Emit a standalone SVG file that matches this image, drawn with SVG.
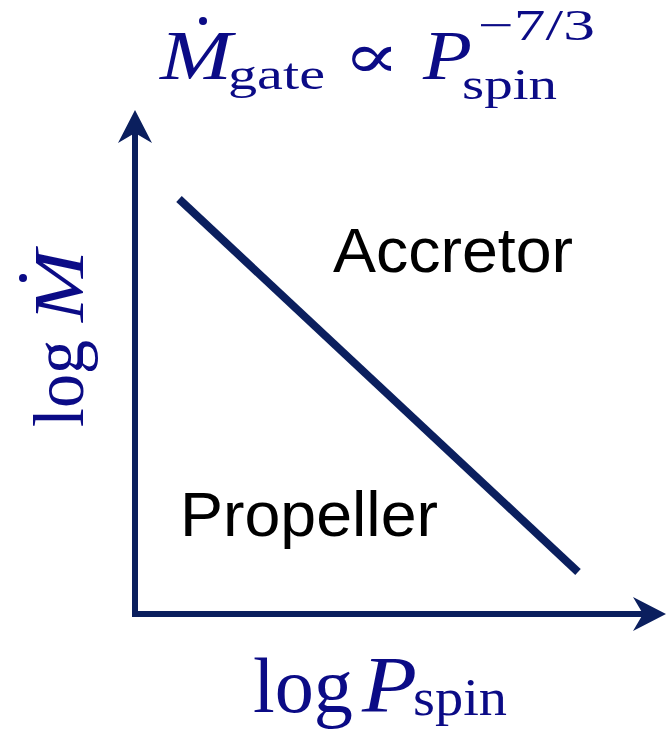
<svg xmlns="http://www.w3.org/2000/svg" width="670" height="729" viewBox="0 0 670 729">
  <style>
    .ax { stroke: #0b1f5e; stroke-width: 6; fill: none; stroke-linecap: butt; }
    .bound { stroke: #0b1f5e; stroke-width: 8; fill: none; stroke-linecap: butt; }
    .math { fill: #0b0b86; font-family: "Liberation Serif", "DejaVu Serif", serif; }
    .sym { fill: #0b0b86; font-family: "DejaVu Serif", serif; }
    .it { font-style: italic; }
    .lbl { fill: #000000; font-family: "Liberation Sans", Arial, sans-serif; font-size: 63px; }
  </style>
  <defs>
    <marker id="arr" markerUnits="userSpaceOnUse" markerWidth="40" markerHeight="40" viewBox="-12 -20 40 40" refX="0" refY="0" orient="auto" overflow="visible">
      <path d="M23,0 L-10,-17 L0,0 L-10,17 Z" fill="#0b1f5e"/>
    </marker>
  </defs>
  <rect width="670" height="729" fill="#ffffff"/>
  <g id="connectors">
    <line class="ax" x1="135" y1="617" x2="135" y2="133" marker-end="url(#arr)"/>
    <line class="ax" x1="132" y1="614" x2="643" y2="614" marker-end="url(#arr)"/>
    <line id="boundary" class="bound" x1="179" y1="199" x2="578" y2="572"/>
  </g>
  <g id="title">
    <text class="math it" x="160" y="79" font-size="69" textLength="72" lengthAdjust="spacingAndGlyphs">M</text>
    <circle cx="203" cy="21" r="4" fill="#0b0b86"/>
    <text class="math" x="228" y="89" font-size="45" textLength="97" lengthAdjust="spacingAndGlyphs">gate</text>
    <text class="sym" transform="translate(343,78) scale(1.32,1)" x="0" y="0" font-size="64">∝</text>
    <text class="math it" x="423" y="79" font-size="69" textLength="49" lengthAdjust="spacingAndGlyphs">P</text>
    <text class="math" x="478" y="40" font-size="44" textLength="117" lengthAdjust="spacingAndGlyphs">−7/3</text>
    <text class="math" x="462" y="99" font-size="45" textLength="95" lengthAdjust="spacingAndGlyphs">spin</text>
  </g>
  <g id="xlabel">
    <text class="math" x="253" y="712" font-size="78" textLength="100" lengthAdjust="spacingAndGlyphs">log</text>
    <text class="math it" x="362" y="712" font-size="80" textLength="55" lengthAdjust="spacingAndGlyphs">P</text>
    <text class="math" x="413" y="715" font-size="52" textLength="94" lengthAdjust="spacingAndGlyphs">spin</text>
  </g>
  <g id="ylabel">
    <g transform="translate(83,427) rotate(-90)">
      <text class="math" x="0" y="0" font-size="72" textLength="87" lengthAdjust="spacingAndGlyphs">log</text>
      <text class="math it" x="105" y="0" font-size="72" textLength="72" lengthAdjust="spacingAndGlyphs">M</text>
    </g>
    <circle cx="23" cy="278" r="4" fill="#0b0b86"/>
  </g>
  <g id="accretor">
    <text class="lbl" x="333" y="272" textLength="240" lengthAdjust="spacingAndGlyphs">Accretor</text>
  </g>
  <g id="propeller">
    <text class="lbl" x="180" y="536" textLength="258" lengthAdjust="spacingAndGlyphs">Propeller</text>
  </g>
</svg>
